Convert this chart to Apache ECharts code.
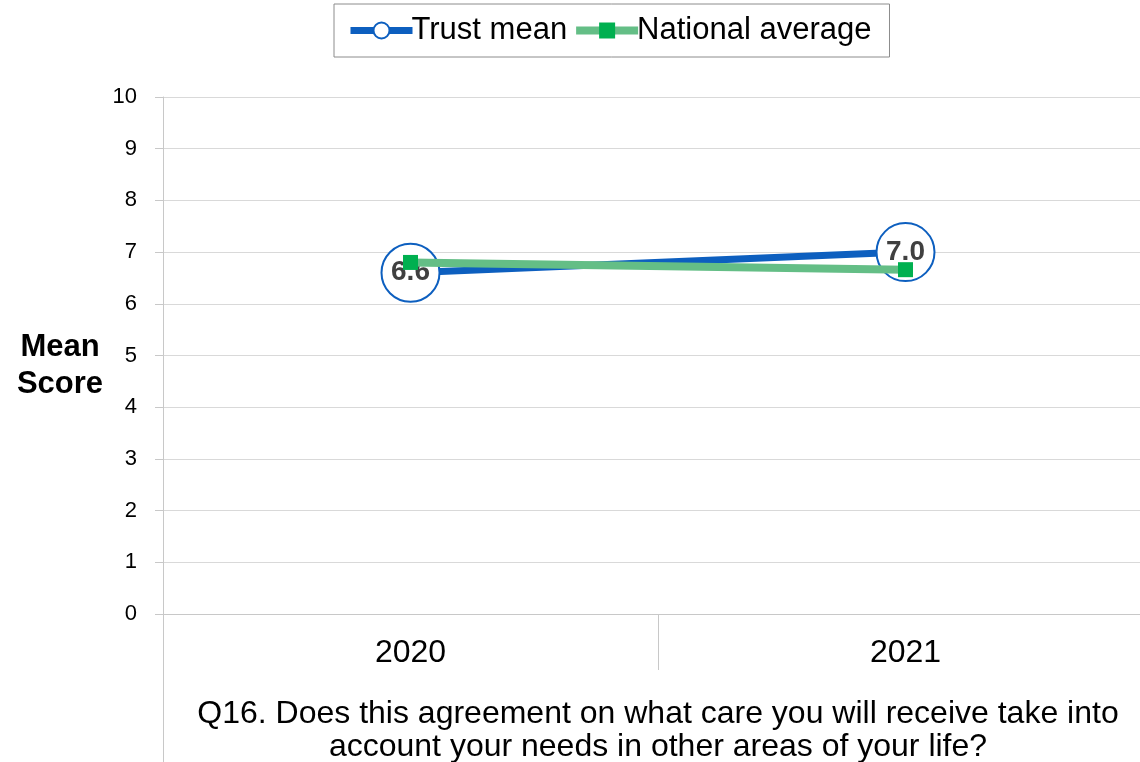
<!DOCTYPE html>
<html>
<head>
<meta charset="utf-8">
<script src="https://cdn.jsdelivr.net/npm/echarts@6/dist/echarts.min.js"></script>
<style>
  html, body { margin: 0; padding: 0; background: #fff; overflow: hidden; }
  #chart { width: 1140px; height: 762px; }
</style>
</head>
<body>
<div id="chart"></div>
<script>
const years = ['2020', '2021']
const trustMean = [6.6, 7.0]
const nationalAverage = [6.8, 6.66]
const question = 'Q16. Does this agreement on what care you will receive take into\naccount your needs in other areas of your life?'
const yTicks = [0, 10, 1]  // min, max, interval

const chart = echarts.init(document.getElementById('chart'))
const font = '"Liberation Sans", Arial, sans-serif'

chart.setOption({
  animation: false,
  textStyle: { fontFamily: font },
  legend: {
    top: 4,
    left: 334,
    padding: [11, 18, 11, 13],
    itemGap: 5,
    itemWidth: 62,
    itemHeight: 20,
    borderColor: '#8c8c8c',
    borderWidth: 1,
    lineStyle: { width: 'inherit' },
    textStyle: { fontSize: 31, color: '#000', padding: [0, 0, 0, -6] },
    data: ['Trust mean', 'National average']
  },
  grid: { left: 163, top: 97, width: 990, height: 517, containLabel: false, outerBoundsMode: 'none' },
  graphic: [{
    type: 'text',
    x: 60,
    y: 366,
    style: {
      text: 'Mean\nScore',
      font: 'bold 31px "Liberation Sans", Arial, sans-serif',
      fill: '#000',
      align: 'center',
      verticalAlign: 'middle',
      lineHeight: 37
    }
  }],
  xAxis: [
    {
      type: 'category',
      data: years,
      boundaryGap: true,
      axisLine: { lineStyle: { color: '#c8c8c8', width: 1 } },
      axisTick: { show: true, length: 56, interval: 0, lineStyle: { color: '#c8c8c8' } },
      axisLabel: { fontSize: 32, color: '#000', margin: 23 }
    },
    {
      type: 'category',
      position: 'bottom',
      data: [question],
      boundaryGap: true,
      axisLine: { show: false },
      axisTick: { show: true, length: 150, lineStyle: { color: '#c8c8c8' } },
      axisLabel: { fontSize: 32, color: '#000', margin: 84, lineHeight: 33 }
    }
  ],
  yAxis: {
    type: 'value',
    min: yTicks[0],
    max: yTicks[1],
    interval: yTicks[2],
    axisLine: { show: true, lineStyle: { color: '#c8c8c8' } },
    axisTick: { show: true, length: 8, lineStyle: { color: '#c8c8c8' } },
    axisLabel: { fontSize: 22, color: '#000', margin: 26 },
    splitLine: { lineStyle: { color: '#d9d9d9', width: 1 } }
  },
  series: [
    {
      name: 'Trust mean',
      type: 'line',
      data: trustMean,
      symbol: 'circle',
      symbolSize: 58,
      lineStyle: { color: '#0d5fbf', width: 7 },
      itemStyle: { color: '#fff', borderColor: '#0d5fbf', borderWidth: 2 },
      label: {
        show: true,
        position: 'inside',
        formatter: p => p.value.toFixed(1),
        fontSize: 28,
        fontWeight: 'bold',
        color: '#404040'
      },
      z: 2
    },
    {
      name: 'National average',
      type: 'line',
      data: nationalAverage,
      symbol: 'rect',
      symbolSize: 15,
      lineStyle: { color: '#64be86', width: 8 },
      itemStyle: { color: '#00b050' },
      z: 3
    }
  ]
})
</script>
</body>
</html>
